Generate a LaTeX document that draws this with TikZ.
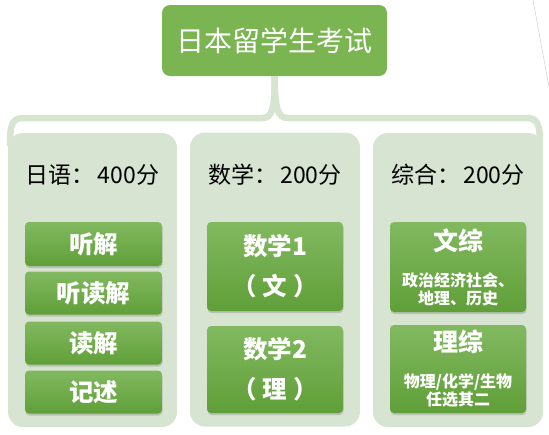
\documentclass[tikz,border=0pt]{standalone}
\usepackage{fontspec}
\setmainfont{Noto Sans CJK SC}
\usepackage{tikz}
\usetikzlibrary{shadows}
\definecolor{titlegreen}{HTML}{7AB552}
\definecolor{panelgreen}{HTML}{D7E4D1}
\definecolor{bracecol}{HTML}{D6E4D0}
\definecolor{boxtop}{HTML}{82B960}
\definecolor{boxbot}{HTML}{5F9F38}

\begin{document}
\begin{tikzpicture}[x=1pt,y=-1pt,
    colpanel/.style={fill=panelgreen,rounded corners=15pt,minimum width=170pt,minimum height=294pt,inner sep=0pt},
    headtext/.style={font=\fontsize{23}{27}\selectfont},
    subbox/.style={top color=boxtop,bottom color=boxbot,rounded corners=4pt,minimum width=137pt,inner sep=0pt,align=center,
      text=white,font=\fontsize{24.5}{29}\selectfont\bfseries,
      drop shadow={shadow xshift=0.5pt,shadow yshift=-2pt,opacity=0.35}},
    brace/.style={draw=bracecol,line width=6.5pt}]

    \useasboundingbox (0,0) rectangle (549,434);

    \node[colpanel,minimum width=169pt] (jp)   at (92.5, 280)   {};
    \node[colpanel]                     (math) at (275, 279.5)  {};
    \node[colpanel]                     (comp) at (458, 280)    {};

    \node[fill=titlegreen,rounded corners=8pt,minimum width=225pt,minimum height=71pt,
      text=white,font=\fontsize{28}{33}\selectfont] (title) at (274.5, 40.5) {日本留学生考试};

    \coordinate (bl) at (10, 146);
    \coordinate (br) at (540, 146);
    \coordinate (g1) at (533, 0);
    \coordinate (g2) at (549, 87);

    \draw[brace] (title.south) .. controls (275, 110) and (272, 118) .. (262, 118) -- (24, 118)
      .. controls (12, 118) and (10, 124) .. (bl);
    \draw[brace] (title.south) .. controls (275, 110) and (278, 118) .. (288, 118) -- (526, 118)
      .. controls (538, 118) and (540, 124) .. (br);
    \draw[gray!45] (g1) -- (g2);

    \node[headtext] (jph)   at (92.5, 175) {日语：\hspace{3pt}400分};
    \node[headtext] (mathh) at (275, 175)  {数学：\hspace{3pt}200分};
    \node[headtext] (comph) at (458, 175)  {综合：\hspace{3pt}200分};

    \node[subbox,minimum height=44pt] (listen) at (93.5, 244) {听解};
    \node[subbox,minimum height=43pt] (lread)  at (93.5, 293) {听读解};
    \node[subbox,minimum height=43pt] (read)   at (93.5, 343) {读解};
    \node[subbox,minimum height=43pt] (essay)  at (93.5, 392) {记述};

    \node[subbox,minimum width=136pt,minimum height=89pt] (m1) at (275, 266.5)
      {数学1\\[11pt]（\hspace{6pt}文\hspace{6pt}）};
    \node[subbox,minimum width=136pt,minimum height=87pt] (m2) at (275, 369.5)
      {数学2\\[11pt]（\hspace{6pt}理\hspace{6pt}）};

    \node[subbox,minimum width=136pt,minimum height=90pt,font=\fontsize{16}{18}\selectfont\bfseries] (arts) at (458, 267)
      {{\fontsize{25}{29}\selectfont 文综}\\[18pt]政治经济社会、\\地理、历史};
    \node[subbox,minimum width=136pt,minimum height=88pt,font=\fontsize{16}{18}\selectfont\bfseries] (sci) at (458, 369)
      {{\fontsize{25}{29}\selectfont 理综}\\[18pt]物理/化学/生物\\任选其二};
  \end{tikzpicture}
\end{document}
